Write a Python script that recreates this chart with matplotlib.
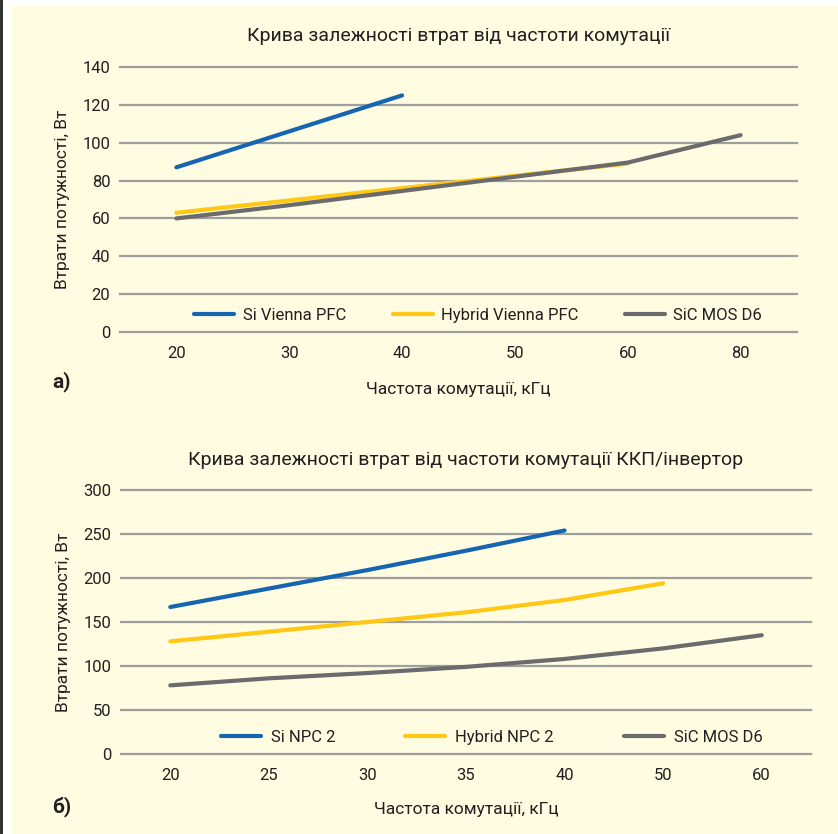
import matplotlib.pyplot as plt
from matplotlib.patches import Rectangle

plt.rcParams['font.family'] = ['Roboto', 'DejaVu Sans']

# --- data: chart a) ---
freq_a = ['20', '30', '40', '50', '60', '80']
si_vienna = [87, 106, 125]
hybrid_vienna = [63, 69.5, 76, 82.5, 89]
sic_d6_a = [60, 67, 74.5, 82, 89.5, 104]

# --- data: chart б) ---
freq_b = ['20', '25', '30', '35', '40', '50', '60']
si_npc = [167, 188, 209, 231, 254]
hybrid_npc = [128, 139, 150, 161, 175, 194]
sic_d6_b = [78, 86, 92, 99, 108, 120, 135]

BLUE = '#1565b0'
YELLOW = '#ffc814'
GREY = '#6b6b6d'
BG = '#fffce2'
TXT = '#231f20'

fig = plt.figure(figsize=(8.38, 8.34), dpi=100)
fig.patch.set_facecolor('white')
# cream panel and dark left bar
fig.patches.append(Rectangle((12 / 838, 0), 1, 1 - 6 / 834, transform=fig.transFigure,
                             facecolor=BG, edgecolor='none', zorder=-10))
fig.patches.append(Rectangle((0, 0), 3 / 838, 1, transform=fig.transFigure,
                             facecolor='#333333', edgecolor='none', zorder=-10))


def setup(ax, cats, ymax, ystep, title, tpad, xpad):
    ax.set_facecolor('none')
    ax.set_xlim(-0.5, len(cats) - 0.5)
    ax.set_ylim(0, ymax)
    ax.set_yticks(range(0, ymax + 1, ystep))
    ax.set_xticks(range(len(cats)))
    ax.set_xticklabels(cats)
    ax.grid(axis='y', color='#9e9e9e', linewidth=1.6)
    for gl in ax.get_ygridlines():
        gl.set_clip_on(False)
    ax.set_axisbelow(True)
    for s in ax.spines.values():
        s.set_visible(False)
    ax.tick_params(length=0, labelsize=12, labelcolor=TXT)
    ax.tick_params(axis='x', pad=10)
    ax.tick_params(axis='y', pad=7)
    ax.set_title(title, fontsize=14, color=TXT, pad=tpad)
    ax.set_ylabel('Втрати потужності, Вт', fontsize=12.5, color=TXT, labelpad=9)
    ax.set_xlabel('Частота комутації, кГц', fontsize=12.5, color=TXT, labelpad=xpad)


lw = 3.0
ax1 = fig.add_axes([120 / 838, 1 - 332 / 834, 677 / 838, 265 / 834])
setup(ax1, freq_a, 140, 20, 'Крива залежності втрат від частоти комутації', 19, 15)
ax1.plot(range(len(si_vienna)), si_vienna, color=BLUE, lw=lw, solid_capstyle='round', label='Si Vienna PFC')
ax1.plot(range(len(hybrid_vienna)), hybrid_vienna, color=YELLOW, lw=lw, solid_capstyle='round', label='Hybrid Vienna PFC')
ax1.plot(range(len(sic_d6_a)), sic_d6_a, color=GREY, lw=lw, solid_capstyle='round', label='SiC MOS D6')
ax1.legend(ncol=3, loc='center', bbox_to_anchor=(0.529, 0.064), frameon=False,
           fontsize=12, handlelength=2.4, handletextpad=0.5, columnspacing=2.8,
           labelcolor=TXT)

ax2 = fig.add_axes([121 / 838, 1 - 754 / 834, 690 / 838, 264 / 834])
setup(ax2, freq_b, 300, 50, 'Крива залежності втрат від частоти комутації ККП/інвертор', 18, 14)
ax2.plot(range(len(si_npc)), si_npc, color=BLUE, lw=lw, solid_capstyle='round', label='Si NPC 2')
ax2.plot(range(len(hybrid_npc)), hybrid_npc, color=YELLOW, lw=lw, solid_capstyle='round', label='Hybrid NPC 2')
ax2.plot(range(len(sic_d6_b)), sic_d6_b, color=GREY, lw=lw, solid_capstyle='round', label='SiC MOS D6')
ax2.legend(ncol=3, loc='center', bbox_to_anchor=(0.537, 0.064), frameon=False,
           fontsize=12, handlelength=2.4, handletextpad=0.6, columnspacing=4.2,
           labelcolor=TXT)

fig.text(52 / 838, 1 - 382 / 834, 'а)', fontsize=15, fontweight='bold', va='center', color=TXT)
fig.text(52 / 838, 1 - 807 / 834, 'б)', fontsize=15, fontweight='bold', va='center', color=TXT)

fig.savefig('out.png', dpi=100, facecolor=fig.get_facecolor())
